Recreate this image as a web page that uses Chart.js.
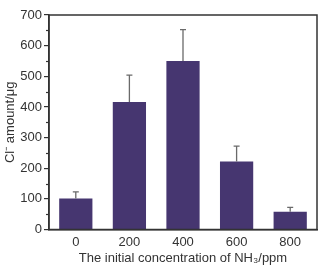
<!DOCTYPE html>
<html><head><meta charset="utf-8">
<script src="https://cdn.jsdelivr.net/npm/chart.js@4"></script>
<style>html,body{margin:0;padding:0;background:#fff}#w{width:329px;height:273px}</style>
</head><body><div id="w"><canvas id="c"></canvas></div>
<script>
const categories = ['0', '200', '400', '600', '800'];
const amounts = [101, 416, 550, 222, 58];
const errors = [22, 88, 102, 50, 14];
const yTicks = [0, 100, 200, 300, 400, 500, 600, 700];

const frame = {
  id: 'frame',
  afterDatasetsDraw(chart) {
    const ctx = chart.ctx, a = chart.chartArea, y = chart.scales.y;
    ctx.save();
    const meta = chart.getDatasetMeta(0);
    ctx.strokeStyle = '#6a6a6a'; ctx.lineWidth = 1.3;
    meta.data.forEach((b, i) => {
      const y0 = y.getPixelForValue(amounts[i]);
      const y1 = y.getPixelForValue(amounts[i] + errors[i]);
      ctx.beginPath(); ctx.moveTo(b.x, y0); ctx.lineTo(b.x, y1);
      ctx.moveTo(b.x - 3, y1); ctx.lineTo(b.x + 3, y1); ctx.stroke();
    });
    ctx.strokeStyle = '#333'; ctx.lineWidth = 1.5;
    ctx.strokeRect(a.left, a.top, a.right - a.left, a.bottom - a.top);
    ctx.lineWidth = 1.2;
    for (let v = 50; v < 700; v += 100) {
      const p = Math.round(y.getPixelForValue(v)) + 0.5;
      ctx.beginPath(); ctx.moveTo(a.left - 3, p); ctx.lineTo(a.left, p); ctx.stroke();
    }
    ctx.restore();
  }
};

new Chart(document.getElementById('c'), {
  type: 'bar',
  data: { labels: categories, datasets: [{ data: amounts, backgroundColor: '#463670', borderWidth: 0, categoryPercentage: 0.62, barPercentage: 1 }] },
  options: {
    responsive: true, maintainAspectRatio: false, animation: false,
    layout: { padding: { top: 15, right: 12, left: 0, bottom: 0 } },
    plugins: { legend: { display: false }, tooltip: { enabled: false } },
    scales: {
      x: {
        grid: { display: false, drawTicks: false },
        border: { display: true, color: '#333', width: 1.5 },
        ticks: { color: '#333', font: { family: 'Liberation Sans, Arial', size: 13 }, padding: 5, maxRotation: 0 },
        title: { display: true, text: 'The initial concentration of NH\u2083/ppm', color: '#333', font: { family: 'Liberation Sans, Arial', size: 13 }, padding: { top: 2, bottom: 7 } },
        afterFit(s) { s.height = 43.5; }
      },
      y: {
        min: 0, max: 700,
        afterBuildTicks(s) { s.ticks = yTicks.map(v => ({ value: v })); },
        grid: { drawOnChartArea: false, tickLength: 5, color: '#333', lineWidth: 1.2 },
        border: { display: true, color: '#333', width: 1.5 },
        ticks: { color: '#333', font: { family: 'Liberation Sans, Arial', size: 13 }, padding: 2 },
        title: { display: true, text: 'Cl\u207B amount/\u03BCg', color: '#333', font: { family: 'Liberation Sans, Arial', size: 13 }, padding: { top: 3, bottom: 2 } },
        afterFit(s) { s.width = 49; }
      }
    }
  },
  plugins: [frame]
});
</script></body></html>
